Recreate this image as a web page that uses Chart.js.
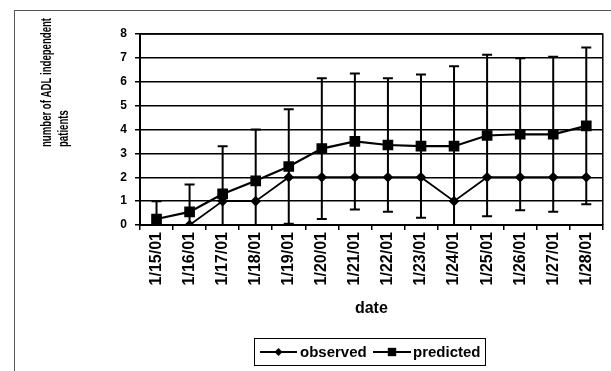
<!DOCTYPE html>
<html>
<head>
<meta charset="utf-8">
<script src="https://cdn.jsdelivr.net/npm/chart.js@4/dist/chart.umd.min.js"></script>
<style>
html,body{margin:0;padding:0;background:#fff;}
#wrap{width:611px;height:371px;position:relative;}
</style>
</head>
<body>
<div id="wrap"><canvas id="c" width="611" height="371"></canvas></div>
<script>
const categories = ['1/15/01','1/16/01','1/17/01','1/18/01','1/19/01','1/20/01','1/21/01','1/22/01','1/23/01','1/24/01','1/25/01','1/26/01','1/27/01','1/28/01'];
const observed = [0,0,1,1,2,2,2,2,2,1,2,2,2,2];
const predicted = [0.25,0.55,1.3,1.85,2.45,3.2,3.5,3.35,3.3,3.3,3.75,3.8,3.8,4.15];
const predictedError = [0.75,1.15,2.0,2.15,2.4,2.95,2.85,2.8,3.0,3.35,3.38,3.18,3.25,3.28];
const yTickValues = [0,1,2,3,4,5,6,7,8];
const yTitleLines = ['number of ADL independent','patients'];
const xTitle = 'date';

const FONT = '"Liberation Sans", Arial, sans-serif';

const errorBars = {
  id:'errorBars',
  afterDatasetsDraw(chart){
    const {ctx, chartArea:a, scales:{x,y}} = chart;
    ctx.save();
    ctx.beginPath(); ctx.rect(a.left-10, a.top-10, a.right-a.left+20, a.bottom-a.top+10); ctx.clip();
    ctx.strokeStyle='#000'; ctx.lineWidth=2;
    predicted.forEach((v,i)=>{
      const px = x.getPixelForValue(i);
      const hi = v + predictedError[i], lo = v - predictedError[i];
      const yHi = y.getPixelForValue(Math.min(hi, y.max));
      const yLo = y.getPixelForValue(Math.max(lo, y.min));
      ctx.beginPath(); ctx.moveTo(px,yHi); ctx.lineTo(px,yLo); ctx.stroke();
      if (hi <= y.max){ ctx.beginPath(); ctx.moveTo(px-5,yHi); ctx.lineTo(px+5,yHi); ctx.stroke(); }
      if (lo >= y.min){ ctx.beginPath(); ctx.moveTo(px-5,yLo); ctx.lineTo(px+5,yLo); ctx.stroke(); }
    });
    ctx.restore();
  }
};

const decor = {
  id:'decor',
  beforeDraw(chart){
    const {ctx} = chart;
    ctx.save();
    ctx.fillStyle='#fff'; ctx.fillRect(0,0,chart.width,chart.height);
    ctx.strokeStyle='#555'; ctx.lineWidth=1;
    ctx.strokeRect(14.5,10.5,800,500);
    ctx.restore();
  },
  afterDraw(chart){
    const {ctx, chartArea:a} = chart;
    ctx.save();
    ctx.strokeStyle='#000'; ctx.lineWidth=1.5;
    ctx.beginPath(); ctx.moveTo(a.left,a.top); ctx.lineTo(a.right,a.top); ctx.lineTo(a.right,a.bottom); ctx.stroke();
    // y title
    ctx.fillStyle='#000';
    ctx.font='bold 15px '+FONT;
    ctx.textBaseline='middle'; ctx.textAlign='left';
    ctx.translate(47,147); ctx.rotate(-Math.PI/2); ctx.scale(0.64,1);
    yTitleLines.forEach((t,i)=>ctx.fillText(t,0,i*17));
    ctx.restore();
    // x title
    ctx.save();
    ctx.fillStyle='#000'; ctx.font='bold 16px '+FONT; ctx.textAlign='center'; ctx.textBaseline='middle';
    ctx.fillText(xTitle,(a.left+a.right)/2,309);
    ctx.restore();
    // legend
    ctx.save();
    ctx.strokeStyle='#000'; ctx.lineWidth=1;
    ctx.strokeRect(254.5,338.5,231,27);
    const ly=352;
    const items=[{ds:chart.data.datasets[0],x0:260,x1:297,tx:300},{ds:chart.data.datasets[1],x0:373,x1:411,tx:413}];
    items.forEach(it=>{
      ctx.strokeStyle='#000'; ctx.lineWidth=it.ds.borderWidth;
      ctx.beginPath(); ctx.moveTo(it.x0,ly); ctx.lineTo(it.x1,ly); ctx.stroke();
      const cx=(it.x0+it.x1)/2;
      ctx.fillStyle='#000';
      if(it.ds.pointStyle==='rectRot'){
        const r=it.ds.pointRadius;
        ctx.beginPath(); ctx.moveTo(cx,ly-r); ctx.lineTo(cx+r,ly); ctx.lineTo(cx,ly+r); ctx.lineTo(cx-r,ly); ctx.closePath(); ctx.fill();
      } else {
        const r=it.ds.pointRadius*0.7;
        ctx.fillRect(cx-r,ly-r,2*r,2*r);
      }
      ctx.font='bold 15px '+FONT; ctx.textBaseline='middle'; ctx.textAlign='left';
      ctx.fillText(it.ds.label,it.tx,ly+1);
    });
    ctx.restore();
  }
};

new Chart(document.getElementById('c'),{
  type:'line',
  data:{
    labels:categories,
    datasets:[
      {label:'observed',data:observed,borderColor:'#000',backgroundColor:'#000',borderWidth:1.8,pointStyle:'rectRot',pointRadius:4,pointBackgroundColor:'#000',tension:0},
      {label:'predicted',data:predicted,borderColor:'#000',backgroundColor:'#000',borderWidth:2.2,pointStyle:'rect',pointRadius:6,pointBackgroundColor:'#000',tension:0}
    ]
  },
  options:{
    responsive:false,animation:false,devicePixelRatio:1,
    layout:{padding:{left:0,right:6,top:34,bottom:0}},
    plugins:{legend:{display:false},tooltip:{enabled:false}},
    scales:{
      x:{
        offset:true,
        grid:{offset:true,drawOnChartArea:false,drawTicks:true,tickLength:5,color:'#000',lineWidth:1.5},
        border:{color:'#000',width:2},
        ticks:{color:'#000',font:{family:FONT,size:16,weight:'bold'},minRotation:90,maxRotation:90,padding:2,autoSkip:false},
        afterFit(s){s.height=146;}
      },
      y:{
        min:0,max:8,
        afterBuildTicks(s){s.ticks=yTickValues.map(v=>({value:v}));},
        grid:{color:'#000',lineWidth:1.5,tickLength:5},
        border:{color:'#000',width:2},
        ticks:{color:'#000',font:{family:FONT,size:12,weight:'bold'},padding:8},
        afterFit(s){s.width=140;}
      }
    }
  },
  plugins:[decor,errorBars]
});
</script>
</body>
</html>
